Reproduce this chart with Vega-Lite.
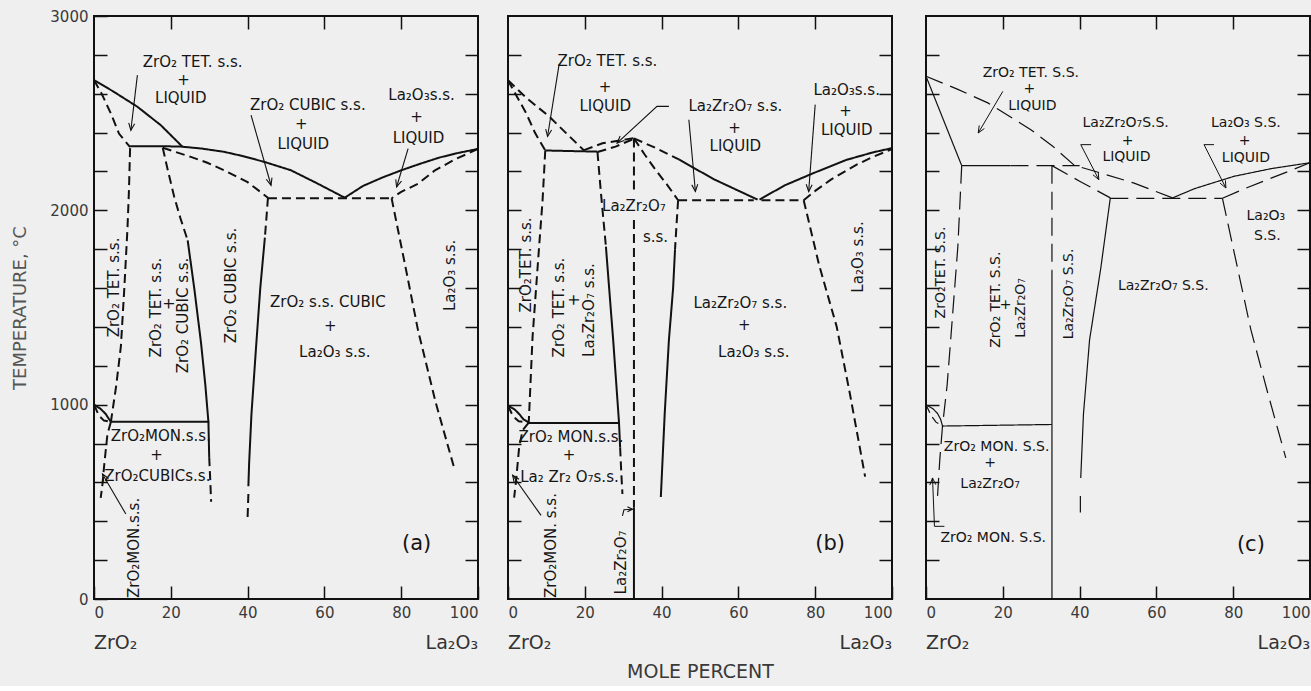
{
  "$schema": "https://vega.github.io/schema/vega-lite/v6.json",
  "background": "#efefef",
  "padding": {"left": 10, "top": 8, "right": 2, "bottom": 4},
  "spacing": 20,
  "config": {
    "view": {"stroke": "#111", "strokeWidth": 2},
    "axis": {"domain": false, "grid": false, "tickColor": "#111", "tickWidth": 1.5, "tickSize": -13, "labelFont": "DejaVu Sans", "labelFontSize": 15, "labelColor": "#3a3a3a", "titleFont": "DejaVu Sans", "titleFontWeight": "normal", "titleColor": "#3a3a3a"},
    "text": {"font": "DejaVu Sans", "fontSize": 15, "color": "#151515"}
  },
  "datasets": {
    "lines": [
      {"p":"a","s":"a1","k":"solid","x":0,"t":2670},{"p":"a","s":"a1","k":"solid","x":5,"t":2612},{"p":"a","s":"a1","k":"solid","x":11.3,"t":2533},{"p":"a","s":"a1","k":"solid","x":17.4,"t":2438},{"p":"a","s":"a1","k":"solid","x":23,"t":2328},
      {"p":"a","s":"a2","k":"dash","x":0,"t":2670},{"p":"a","s":"a2","k":"dash","x":2,"t":2600},{"p":"a","s":"a2","k":"dash","x":4.4,"t":2498},{"p":"a","s":"a2","k":"dash","x":6.5,"t":2395},{"p":"a","s":"a2","k":"dash","x":9.4,"t":2325},
      {"p":"a","s":"a3","k":"solid","x":9.4,"t":2330},{"p":"a","s":"a3","k":"solid","x":18,"t":2330},{"p":"a","s":"a3","k":"solid","x":22.6,"t":2328},{"p":"a","s":"a3","k":"solid","x":28,"t":2318},{"p":"a","s":"a3","k":"solid","x":33.9,"t":2301},{"p":"a","s":"a3","k":"solid","x":39,"t":2278},{"p":"a","s":"a3","k":"solid","x":44.4,"t":2249},{"p":"a","s":"a3","k":"solid","x":51.3,"t":2206},{"p":"a","s":"a3","k":"solid","x":58,"t":2140},{"p":"a","s":"a3","k":"solid","x":65.3,"t":2065},
      {"p":"a","s":"a4","k":"solid","x":65.3,"t":2065},{"p":"a","s":"a4","k":"solid","x":70,"t":2125},{"p":"a","s":"a4","k":"solid","x":75,"t":2168},{"p":"a","s":"a4","k":"solid","x":80,"t":2206},{"p":"a","s":"a4","k":"solid","x":85,"t":2240},{"p":"a","s":"a4","k":"solid","x":90,"t":2272},{"p":"a","s":"a4","k":"solid","x":95,"t":2296},{"p":"a","s":"a4","k":"solid","x":100,"t":2316},
      {"p":"a","s":"a5","k":"dash","x":100,"t":2316},{"p":"a","s":"a5","k":"dash","x":94,"t":2262},{"p":"a","s":"a5","k":"dash","x":88.8,"t":2206},{"p":"a","s":"a5","k":"dash","x":84.4,"t":2137},{"p":"a","s":"a5","k":"dash","x":80,"t":2095},{"p":"a","s":"a5","k":"dash","x":77.5,"t":2062},
      {"p":"a","s":"a6","k":"dash","x":45.3,"t":2062},{"p":"a","s":"a6","k":"dash","x":77.5,"t":2062},
      {"p":"a","s":"a7","k":"dash","x":17.9,"t":2322},{"p":"a","s":"a7","k":"dash","x":25.2,"t":2275},{"p":"a","s":"a7","k":"dash","x":29.5,"t":2245},{"p":"a","s":"a7","k":"dash","x":33.9,"t":2206},{"p":"a","s":"a7","k":"dash","x":40,"t":2145},{"p":"a","s":"a7","k":"dash","x":45.3,"t":2065},
      {"p":"a","s":"a8","k":"dash","x":17.9,"t":2322},{"p":"a","s":"a8","k":"dash","x":19.3,"t":2200},{"p":"a","s":"a8","k":"dash","x":20.9,"t":2069},{"p":"a","s":"a8","k":"dash","x":22.5,"t":1960},{"p":"a","s":"a8","k":"dash","x":24.4,"t":1845},
      {"p":"a","s":"a9","k":"solid","x":24.4,"t":1845},{"p":"a","s":"a9","k":"solid","x":26.1,"t":1600},{"p":"a","s":"a9","k":"solid","x":27.9,"t":1313},{"p":"a","s":"a9","k":"solid","x":29,"t":1100},{"p":"a","s":"a9","k":"solid","x":29.8,"t":910},{"p":"a","s":"a9","k":"solid","x":30,"t":730},
      {"p":"a","s":"a10","k":"dash","x":30,"t":730},{"p":"a","s":"a10","k":"dash","x":30.3,"t":600},{"p":"a","s":"a10","k":"dash","x":30.5,"t":500},
      {"p":"a","s":"a11","k":"dash","x":9.4,"t":2320},{"p":"a","s":"a11","k":"dash","x":9.1,"t":2100},{"p":"a","s":"a11","k":"dash","x":8.7,"t":1900},{"p":"a","s":"a11","k":"dash","x":7.9,"t":1600},{"p":"a","s":"a11","k":"dash","x":7,"t":1300},{"p":"a","s":"a11","k":"dash","x":5.8,"t":1100},{"p":"a","s":"a11","k":"dash","x":4.4,"t":912},
      {"p":"a","s":"a12","k":"dash","x":4.4,"t":912},{"p":"a","s":"a12","k":"dash","x":3.5,"t":848},{"p":"a","s":"a12","k":"dash","x":3.05,"t":763},{"p":"a","s":"a12","k":"dash","x":2.6,"t":677},{"p":"a","s":"a12","k":"dash","x":2.2,"t":591},{"p":"a","s":"a12","k":"dash","x":1.75,"t":520},
      {"p":"a","s":"a13","k":"solid","x":4.4,"t":912},{"p":"a","s":"a13","k":"solid","x":30,"t":912},
      {"p":"a","s":"a14","k":"solid","x":0,"t":1000},{"p":"a","s":"a14","k":"solid","x":1.75,"t":978},{"p":"a","s":"a14","k":"solid","x":3.05,"t":952},{"p":"a","s":"a14","k":"solid","x":3.9,"t":926},{"p":"a","s":"a14","k":"solid","x":4.4,"t":912},
      {"p":"a","s":"a15","k":"dash","x":0,"t":1000},{"p":"a","s":"a15","k":"dash","x":1.3,"t":943},{"p":"a","s":"a15","k":"dash","x":2.6,"t":918},{"p":"a","s":"a15","k":"dash","x":4.4,"t":912},
      {"p":"a","s":"a16","k":"dash","x":45.3,"t":2065},{"p":"a","s":"a16","k":"dash","x":44.9,"t":1960},{"p":"a","s":"a16","k":"dash","x":44.5,"t":1860},
      {"p":"a","s":"a17","k":"solid","x":44.5,"t":1860},{"p":"a","s":"a17","k":"solid","x":43.3,"t":1600},{"p":"a","s":"a17","k":"solid","x":42.2,"t":1295},{"p":"a","s":"a17","k":"solid","x":41,"t":950},{"p":"a","s":"a17","k":"solid","x":40.4,"t":700},{"p":"a","s":"a17","k":"solid","x":40.2,"t":580},
      {"p":"a","s":"a18","k":"dash","x":40.2,"t":540},{"p":"a","s":"a18","k":"dash","x":40,"t":420},
      {"p":"a","s":"a19","k":"dash","x":77.5,"t":2062},{"p":"a","s":"a19","k":"dash","x":81,"t":1720},{"p":"a","s":"a19","k":"dash","x":84.4,"t":1381},{"p":"a","s":"a19","k":"dash","x":89,"t":1010},{"p":"a","s":"a19","k":"dash","x":94,"t":660},
      {"p":"a","s":"aA1","k":"arrow","x":11.3,"t":2696},{"p":"a","s":"aA1","k":"arrow","x":9.6,"t":2412},
      {"p":"a","s":"aH1","k":"arrow","x":9.04,"t":2450},{"p":"a","s":"aH1","k":"arrow","x":9.6,"t":2412},{"p":"a","s":"aH1","k":"arrow","x":10.59,"t":2446},
      {"p":"a","s":"aA2","k":"arrow","x":40.9,"t":2490},{"p":"a","s":"aA2","k":"arrow","x":46.1,"t":2129},
      {"p":"a","s":"aH2","k":"arrow","x":44.85,"t":2160},{"p":"a","s":"aH2","k":"arrow","x":46.1,"t":2129},{"p":"a","s":"aH2","k":"arrow","x":46.35,"t":2168},
      {"p":"a","s":"aA3","k":"arrow","x":81.8,"t":2318},{"p":"a","s":"aA3","k":"arrow","x":78.8,"t":2120},
      {"p":"a","s":"aH3","k":"arrow","x":78.58,"t":2159},{"p":"a","s":"aH3","k":"arrow","x":78.8,"t":2120},{"p":"a","s":"aH3","k":"arrow","x":80.07,"t":2150},
      {"p":"a","s":"aA4","k":"arrow","x":8.3,"t":437},{"p":"a","s":"aA4","k":"arrow","x":2.2,"t":643},
      {"p":"a","s":"aH4","k":"arrow","x":3.8,"t":620},{"p":"a","s":"aH4","k":"arrow","x":2.2,"t":643},{"p":"a","s":"aH4","k":"arrow","x":2.45,"t":604},

      {"p":"b","s":"b1","k":"dash","x":0,"t":2669},{"p":"b","s":"b1","k":"dash","x":2.2,"t":2590},{"p":"b","s":"b1","k":"dash","x":4.7,"t":2501},{"p":"b","s":"b1","k":"dash","x":7,"t":2400},{"p":"b","s":"b1","k":"dash","x":9.7,"t":2308},
      {"p":"b","s":"b2","k":"dash","x":0,"t":2669},{"p":"b","s":"b2","k":"dash","x":5,"t":2575},{"p":"b","s":"b2","k":"dash","x":10.7,"t":2483},{"p":"b","s":"b2","k":"dash","x":15,"t":2400},{"p":"b","s":"b2","k":"dash","x":19.8,"t":2308},
      {"p":"b","s":"b3","k":"solid","x":9.7,"t":2308},{"p":"b","s":"b3","k":"solid","x":23.3,"t":2302},
      {"p":"b","s":"b4","k":"dash","x":19.8,"t":2310},{"p":"b","s":"b4","k":"dash","x":24.6,"t":2345},{"p":"b","s":"b4","k":"dash","x":32.8,"t":2372},
      {"p":"b","s":"b5","k":"dash","x":23.3,"t":2300},{"p":"b","s":"b5","k":"dash","x":28,"t":2328},{"p":"b","s":"b5","k":"dash","x":32.8,"t":2368},
      {"p":"b","s":"b6","k":"dash","x":32.8,"t":2370},{"p":"b","s":"b6","k":"dash","x":38,"t":2325},{"p":"b","s":"b6","k":"dash","x":44.5,"t":2262},
      {"p":"b","s":"b7","k":"solid","x":44.5,"t":2262},{"p":"b","s":"b7","k":"solid","x":53.6,"t":2160},{"p":"b","s":"b7","k":"solid","x":65,"t":2055},
      {"p":"b","s":"b8","k":"dash","x":32.8,"t":2370},{"p":"b","s":"b8","k":"dash","x":35.5,"t":2290},{"p":"b","s":"b8","k":"dash","x":38.4,"t":2209},{"p":"b","s":"b8","k":"dash","x":41.5,"t":2130},{"p":"b","s":"b8","k":"dash","x":44.3,"t":2052},
      {"p":"b","s":"b9","k":"dash","x":44.3,"t":2052},{"p":"b","s":"b9","k":"dash","x":64,"t":2052},
      {"p":"b","s":"b10","k":"dash","x":66,"t":2052},{"p":"b","s":"b10","k":"dash","x":77,"t":2052},
      {"p":"b","s":"b11","k":"solid","x":65.5,"t":2055},{"p":"b","s":"b11","k":"solid","x":72,"t":2128},{"p":"b","s":"b11","k":"solid","x":79.6,"t":2192},{"p":"b","s":"b11","k":"solid","x":88.2,"t":2260},{"p":"b","s":"b11","k":"solid","x":95,"t":2298},{"p":"b","s":"b11","k":"solid","x":100,"t":2320},
      {"p":"b","s":"b12","k":"dash","x":77,"t":2052},{"p":"b","s":"b12","k":"dash","x":80,"t":2100},{"p":"b","s":"b12","k":"dash","x":84,"t":2157},{"p":"b","s":"b12","k":"dash","x":90.8,"t":2235},{"p":"b","s":"b12","k":"dash","x":95,"t":2275},{"p":"b","s":"b12","k":"dash","x":100,"t":2315},
      {"p":"b","s":"b13","k":"dash","x":77,"t":2052},{"p":"b","s":"b13","k":"dash","x":81,"t":1720},{"p":"b","s":"b13","k":"dash","x":85.6,"t":1401},{"p":"b","s":"b13","k":"dash","x":89,"t":1060},{"p":"b","s":"b13","k":"dash","x":93,"t":630},
      {"p":"b","s":"b14","k":"dash","x":32.8,"t":2370},{"p":"b","s":"b14","k":"dash","x":32.8,"t":2090},
      {"p":"b","s":"b15","k":"dash","x":32.8,"t":1950},{"p":"b","s":"b15","k":"dash","x":32.8,"t":470},
      {"p":"b","s":"b16","k":"solid","x":32.8,"t":470},{"p":"b","s":"b16","k":"solid","x":32.8,"t":0},
      {"p":"b","s":"b17","k":"dash","x":23.3,"t":2300},{"p":"b","s":"b17","k":"dash","x":24.2,"t":2090},{"p":"b","s":"b17","k":"dash","x":25.5,"t":1813},
      {"p":"b","s":"b18","k":"solid","x":25.5,"t":1813},{"p":"b","s":"b18","k":"solid","x":27.4,"t":1330},{"p":"b","s":"b18","k":"solid","x":28.9,"t":911},{"p":"b","s":"b18","k":"solid","x":29.2,"t":780},
      {"p":"b","s":"b19","k":"dash","x":29.2,"t":780},{"p":"b","s":"b19","k":"dash","x":29.5,"t":650},{"p":"b","s":"b19","k":"dash","x":29.8,"t":540},
      {"p":"b","s":"b20","k":"dash","x":9.7,"t":2308},{"p":"b","s":"b20","k":"dash","x":9,"t":2050},{"p":"b","s":"b20","k":"dash","x":8.1,"t":1813},{"p":"b","s":"b20","k":"dash","x":6.4,"t":1350},{"p":"b","s":"b20","k":"dash","x":5.4,"t":908},
      {"p":"b","s":"b21","k":"dash","x":5.4,"t":908},{"p":"b","s":"b21","k":"dash","x":3.8,"t":868},{"p":"b","s":"b21","k":"dash","x":2.9,"t":780},{"p":"b","s":"b21","k":"dash","x":2.5,"t":694},{"p":"b","s":"b21","k":"dash","x":2.1,"t":608},{"p":"b","s":"b21","k":"dash","x":1.6,"t":522},
      {"p":"b","s":"b22","k":"solid","x":5.4,"t":906},{"p":"b","s":"b22","k":"solid","x":28.9,"t":906},
      {"p":"b","s":"b23","k":"solid","x":0,"t":995},{"p":"b","s":"b23","k":"solid","x":1.75,"t":975},{"p":"b","s":"b23","k":"solid","x":3,"t":950},{"p":"b","s":"b23","k":"solid","x":4,"t":925},{"p":"b","s":"b23","k":"solid","x":5.4,"t":908},
      {"p":"b","s":"b24","k":"dash","x":0,"t":995},{"p":"b","s":"b24","k":"dash","x":1.3,"t":940},{"p":"b","s":"b24","k":"dash","x":2.8,"t":915},{"p":"b","s":"b24","k":"dash","x":5.4,"t":908},
      {"p":"b","s":"b25","k":"dash","x":44.3,"t":2052},{"p":"b","s":"b25","k":"dash","x":43.9,"t":1930},{"p":"b","s":"b25","k":"dash","x":43.5,"t":1800},
      {"p":"b","s":"b26","k":"solid","x":43.5,"t":1800},{"p":"b","s":"b26","k":"solid","x":43,"t":1600},{"p":"b","s":"b26","k":"solid","x":41.9,"t":1332},{"p":"b","s":"b26","k":"solid","x":40.8,"t":950},{"p":"b","s":"b26","k":"solid","x":39.8,"t":525},
      {"p":"b","s":"bA1","k":"arrow","x":13.3,"t":2750},{"p":"b","s":"bA1","k":"arrow","x":10.3,"t":2380},
      {"p":"b","s":"bH1","k":"arrow","x":9.82,"t":2418},{"p":"b","s":"bH1","k":"arrow","x":10.3,"t":2380},{"p":"b","s":"bH1","k":"arrow","x":11.36,"t":2413},
      {"p":"b","s":"bA2","k":"arrow","x":41.9,"t":2535},{"p":"b","s":"bA2","k":"arrow","x":38.8,"t":2535},{"p":"b","s":"bA2","k":"arrow","x":28.4,"t":2346},
      {"p":"b","s":"bH2","k":"arrow","x":29.21,"t":2382},{"p":"b","s":"bH2","k":"arrow","x":28.4,"t":2346},{"p":"b","s":"bH2","k":"arrow","x":30.27,"t":2359},
      {"p":"b","s":"bA3","k":"arrow","x":47.1,"t":2466},{"p":"b","s":"bA3","k":"arrow","x":48.8,"t":2097},
      {"p":"b","s":"bH3","k":"arrow","x":47.86,"t":2131},{"p":"b","s":"bH3","k":"arrow","x":48.8,"t":2097},{"p":"b","s":"bH3","k":"arrow","x":49.41,"t":2134},
      {"p":"b","s":"bA4","k":"arrow","x":80,"t":2544},{"p":"b","s":"bA4","k":"arrow","x":78.3,"t":2097},
      {"p":"b","s":"bH4","k":"arrow","x":77.66,"t":2134},{"p":"b","s":"bH4","k":"arrow","x":78.3,"t":2097},{"p":"b","s":"bH4","k":"arrow","x":79.21,"t":2132},
      {"p":"b","s":"bA5","k":"arrow","x":8.6,"t":430},{"p":"b","s":"bA5","k":"arrow","x":1.2,"t":637},
      {"p":"b","s":"bH5","k":"arrow","x":2.89,"t":616},{"p":"b","s":"bH5","k":"arrow","x":1.2,"t":637},{"p":"b","s":"bH5","k":"arrow","x":1.62,"t":599},
      {"p":"b","s":"bA6","k":"arrow","x":29.8,"t":428},{"p":"b","s":"bA6","k":"arrow","x":30.2,"t":459},{"p":"b","s":"bA6","k":"arrow","x":32.4,"t":462},
      {"p":"b","s":"bH6","k":"arrow","x":31.1,"t":449},{"p":"b","s":"bH6","k":"arrow","x":32.4,"t":462},{"p":"b","s":"bH6","k":"arrow","x":31.1,"t":475},

      {"p":"c","s":"c1","k":"solid","x":0,"t":2690},{"p":"c","s":"c1","k":"solid","x":9.3,"t":2230},
      {"p":"c","s":"c2","k":"ldash","x":0,"t":2690},{"p":"c","s":"c2","k":"ldash","x":8,"t":2625},{"p":"c","s":"c2","k":"ldash","x":16.1,"t":2553},{"p":"c","s":"c2","k":"ldash","x":27.3,"t":2415},{"p":"c","s":"c2","k":"ldash","x":33,"t":2330},{"p":"c","s":"c2","k":"ldash","x":38.6,"t":2232},{"p":"c","s":"c2","k":"ldash","x":45.5,"t":2192},{"p":"c","s":"c2","k":"ldash","x":54.2,"t":2140},{"p":"c","s":"c2","k":"ldash","x":64.2,"t":2064},
      {"p":"c","s":"c3","k":"solid","x":9.3,"t":2230},{"p":"c","s":"c3","k":"solid","x":22,"t":2230},
      {"p":"c","s":"c4","k":"ldash","x":22,"t":2230},{"p":"c","s":"c4","k":"ldash","x":40,"t":2230},
      {"p":"c","s":"c5","k":"ldash","x":32.8,"t":2230},{"p":"c","s":"c5","k":"ldash","x":32.8,"t":1690},
      {"p":"c","s":"c6","k":"solid","x":32.8,"t":1690},{"p":"c","s":"c6","k":"solid","x":32.8,"t":0},
      {"p":"c","s":"c7","k":"ldash","x":32.8,"t":2230},{"p":"c","s":"c7","k":"ldash","x":40,"t":2150},{"p":"c","s":"c7","k":"ldash","x":48,"t":2064},
      {"p":"c","s":"c8","k":"ldash","x":48,"t":2062},{"p":"c","s":"c8","k":"ldash","x":77.2,"t":2062},
      {"p":"c","s":"c9","k":"solid","x":64.2,"t":2064},{"p":"c","s":"c9","k":"solid","x":70,"t":2112},{"p":"c","s":"c9","k":"solid","x":80.2,"t":2175},{"p":"c","s":"c9","k":"solid","x":90,"t":2215},{"p":"c","s":"c9","k":"solid","x":100,"t":2245},
      {"p":"c","s":"c10","k":"ldash","x":77.2,"t":2062},{"p":"c","s":"c10","k":"ldash","x":83,"t":2112},{"p":"c","s":"c10","k":"ldash","x":88.9,"t":2158},{"p":"c","s":"c10","k":"ldash","x":95,"t":2205},{"p":"c","s":"c10","k":"ldash","x":100,"t":2245},
      {"p":"c","s":"c11","k":"ldash","x":77.2,"t":2062},{"p":"c","s":"c11","k":"ldash","x":84.6,"t":1386},{"p":"c","s":"c11","k":"ldash","x":89,"t":1060},{"p":"c","s":"c11","k":"ldash","x":93.7,"t":726},
      {"p":"c","s":"c12","k":"solid","x":48,"t":2064},{"p":"c","s":"c12","k":"solid","x":45.5,"t":1700},{"p":"c","s":"c12","k":"solid","x":42.6,"t":1334},{"p":"c","s":"c12","k":"solid","x":41,"t":950},{"p":"c","s":"c12","k":"solid","x":40.3,"t":623},
      {"p":"c","s":"c13","k":"solid","x":40.2,"t":530},{"p":"c","s":"c13","k":"solid","x":40.2,"t":445},
      {"p":"c","s":"c14","k":"ldash","x":9.3,"t":2230},{"p":"c","s":"c14","k":"ldash","x":8.3,"t":1815},{"p":"c","s":"c14","k":"ldash","x":6.5,"t":1352},{"p":"c","s":"c14","k":"ldash","x":5.5,"t":1100},{"p":"c","s":"c14","k":"ldash","x":4.3,"t":890},
      {"p":"c","s":"c15","k":"ldash","x":4.3,"t":890},{"p":"c","s":"c15","k":"ldash","x":3.6,"t":720},{"p":"c","s":"c15","k":"ldash","x":3,"t":528},
      {"p":"c","s":"c16","k":"solid","x":4.3,"t":890},{"p":"c","s":"c16","k":"solid","x":32.8,"t":898},
      {"p":"c","s":"c17","k":"solid","x":0,"t":1000},{"p":"c","s":"c17","k":"solid","x":1.75,"t":980},{"p":"c","s":"c17","k":"solid","x":3,"t":955},{"p":"c","s":"c17","k":"solid","x":3.8,"t":925},{"p":"c","s":"c17","k":"solid","x":4.3,"t":890},
      {"p":"c","s":"c18","k":"dash","x":0,"t":1000},{"p":"c","s":"c18","k":"dash","x":1.3,"t":945},{"p":"c","s":"c18","k":"dash","x":2.6,"t":910},{"p":"c","s":"c18","k":"dash","x":4.3,"t":890},
      {"p":"c","s":"cA1","k":"arrow","x":20,"t":2612},{"p":"c","s":"cA1","k":"arrow","x":13.6,"t":2398},
      {"p":"c","s":"cH1","k":"arrow","x":13.86,"t":2437},{"p":"c","s":"cH1","k":"arrow","x":13.6,"t":2398},{"p":"c","s":"cH1","k":"arrow","x":15.2,"t":2421},
      {"p":"c","s":"cA2","k":"arrow","x":43,"t":2338},{"p":"c","s":"cA2","k":"arrow","x":40.3,"t":2338},{"p":"c","s":"cA2","k":"arrow","x":45,"t":2158},
      {"p":"c","s":"cH2","k":"arrow","x":43.47,"t":2183},{"p":"c","s":"cH2","k":"arrow","x":45,"t":2158},{"p":"c","s":"cH2","k":"arrow","x":44.86,"t":2197},
      {"p":"c","s":"cA3","k":"arrow","x":75,"t":2338},{"p":"c","s":"cA3","k":"arrow","x":72.4,"t":2338},{"p":"c","s":"cA3","k":"arrow","x":78.1,"t":2115},
      {"p":"c","s":"cH3","k":"arrow","x":76.58,"t":2140},{"p":"c","s":"cH3","k":"arrow","x":78.1,"t":2115},{"p":"c","s":"cH3","k":"arrow","x":77.98,"t":2154},
      {"p":"c","s":"cA4","k":"arrow","x":4.8,"t":374},{"p":"c","s":"cA4","k":"arrow","x":2.2,"t":374},{"p":"c","s":"cA4","k":"arrow","x":1.7,"t":623},
      {"p":"c","s":"cH4","k":"arrow","x":2.55,"t":588},{"p":"c","s":"cH4","k":"arrow","x":1.7,"t":623},{"p":"c","s":"cH4","k":"arrow","x":0.99,"t":586}
    ],
    "labels": [
      {"p":"a","o":"h","l":"ZrO₂ TET. s.s.","x":25.7,"t":2765},{"p":"a","o":"h","l":"+","x":23.3,"t":2670},{"p":"a","o":"h","l":"LIQUID","x":22.6,"t":2576},
      {"p":"a","o":"h","l":"ZrO₂ CUBIC s.s.","x":55.7,"t":2541},{"p":"a","o":"h","l":"+","x":54,"t":2443},{"p":"a","o":"h","l":"LIQUID","x":54.5,"t":2340},
      {"p":"a","o":"h","l":"La₂O₃s.s.","x":85.3,"t":2593},{"p":"a","o":"h","l":"+","x":84,"t":2481},{"p":"a","o":"h","l":"LIQUID","x":84.5,"t":2373},
      {"p":"a","o":"h","l":"ZrO₂ s.s. CUBIC","x":60.9,"t":1527},{"p":"a","o":"h","l":"+","x":61.5,"t":1407},{"p":"a","o":"h","l":"La₂O₃ s.s.","x":62.7,"t":1270},
      {"p":"a","o":"h","l":"ZrO₂MON.s.s.","x":17.4,"t":840},{"p":"a","o":"h","l":"+","x":16.3,"t":740},{"p":"a","o":"h","l":"ZrO₂CUBICs.s.","x":16.5,"t":634},
      {"p":"a","o":"v","l":"ZrO₂ TET. s.s.","x":5.1,"t":1603},
      {"p":"a","o":"v","l":"ZrO₂ TET. s.s.","x":16.1,"t":1500},{"p":"a","o":"v","l":"+","x":19.6,"t":1520},{"p":"a","o":"v","l":"ZrO₂ CUBIC s.s.","x":23.1,"t":1459},
      {"p":"a","o":"v","l":"ZrO₂ CUBIC s.s.","x":35.7,"t":1613},
      {"p":"a","o":"v","l":"La₂O₃ s.s.","x":92.7,"t":1665},
      {"p":"a","o":"v","l":"ZrO₂MON.s.s.","x":10.4,"t":263},
      {"p":"a","o":"tag","l":"(a)","x":84,"t":282},
      {"p":"a","o":"endL","l":"ZrO₂","x":0,"t":0},{"p":"a","o":"endR","l":"La₂O₃","x":100,"t":0},

      {"p":"b","o":"h","l":"ZrO₂ TET. s.s.","x":25.9,"t":2767},{"p":"b","o":"h","l":"+","x":25.3,"t":2635},{"p":"b","o":"h","l":"LIQUID","x":25.3,"t":2535},
      {"p":"b","o":"h","l":"La₂Zr₂O₇ s.s.","x":59.2,"t":2535},{"p":"b","o":"h","l":"+","x":59,"t":2424},{"p":"b","o":"h","l":"LIQUID","x":59.2,"t":2329},
      {"p":"b","o":"h","l":"La₂O₃s.s.","x":88.2,"t":2621},{"p":"b","o":"h","l":"+","x":87.9,"t":2509},{"p":"b","o":"h","l":"LIQUID","x":88.2,"t":2415},
      {"p":"b","o":"h","l":"La₂Zr₂O₇","x":32.8,"t":2020},{"p":"b","o":"h","l":"s.s.","x":38.4,"t":1865},
      {"p":"b","o":"h","l":"La₂Zr₂O₇ s.s.","x":60.5,"t":1521},{"p":"b","o":"h","l":"+","x":61.5,"t":1410},{"p":"b","o":"h","l":"La₂O₃ s.s.","x":64,"t":1272},
      {"p":"b","o":"h","l":"ZrO₂ MON.s.s.","x":16.4,"t":834},{"p":"b","o":"h","l":"+","x":15.9,"t":740},{"p":"b","o":"h","l":"La₂ Zr₂ O₇s.s.","x":16,"t":628},
      {"p":"b","o":"v","l":"ZrO₂TET. s.s.","x":4.7,"t":1719},
      {"p":"b","o":"v","l":"ZrO₂ TET. s.s.","x":13.3,"t":1500},{"p":"b","o":"v","l":"+","x":17.2,"t":1539},{"p":"b","o":"v","l":"La₂Zr₂O₇ s.s.","x":21.1,"t":1487},
      {"p":"b","o":"v","l":"La₂O₃ s.s.","x":91.2,"t":1760},
      {"p":"b","o":"v","l":"ZrO₂MON. s.s.","x":11.2,"t":275},
      {"p":"b","o":"v","l":"La₂Zr₂O₇","x":29.4,"t":188},
      {"p":"b","o":"tag","l":"(b)","x":83.9,"t":285},
      {"p":"b","o":"endL","l":"ZrO₂","x":0,"t":0},{"p":"b","o":"endR","l":"La₂O₃","x":100,"t":0},

      {"p":"c","o":"h","l":"ZrO₂ TET. S.S.","x":27.3,"t":2708},{"p":"c","o":"h","l":"+","x":26.9,"t":2625},{"p":"c","o":"h","l":"LIQUID","x":27.7,"t":2538},
      {"p":"c","o":"h","l":"La₂Zr₂O₇S.S.","x":52,"t":2448},{"p":"c","o":"h","l":"+","x":52.5,"t":2357},{"p":"c","o":"h","l":"LIQUID","x":52.2,"t":2275},
      {"p":"c","o":"h","l":"La₂O₃ S.S.","x":83.3,"t":2448},{"p":"c","o":"h","l":"+","x":83,"t":2355},{"p":"c","o":"h","l":"LIQUID","x":83.3,"t":2268},
      {"p":"c","o":"h","l":"La₂O₃","x":88.5,"t":1969},{"p":"c","o":"h","l":"S.S.","x":88.9,"t":1866},
      {"p":"c","o":"h","l":"La₂Zr₂O₇ S.S.","x":61.8,"t":1609},
      {"p":"c","o":"h","l":"ZrO₂ MON. S.S.","x":18.4,"t":782},{"p":"c","o":"h","l":"+","x":16.7,"t":698},{"p":"c","o":"h","l":"La₂Zr₂O₇","x":16.7,"t":590},
      {"p":"c","o":"h","l":"ZrO₂ MON. S.S.","x":17.5,"t":314},
      {"p":"c","o":"v","l":"ZrO₂TET. S.S.","x":3.9,"t":1680},
      {"p":"c","o":"v","l":"ZrO₂ TET. S.S.","x":18.2,"t":1540},{"p":"c","o":"v","l":"+","x":20.8,"t":1515},{"p":"c","o":"v","l":"La₂Zr₂O₇","x":24.7,"t":1498},
      {"p":"c","o":"v","l":"La₂Zr₂O₇ S.S.","x":37.3,"t":1570},
      {"p":"c","o":"tag","l":"(c)","x":84.6,"t":280},
      {"p":"c","o":"endL","l":"ZrO₂","x":0,"t":0},{"p":"c","o":"endR","l":"La₂O₃","x":100,"t":0}
    ]
  },
  "hconcat": [
    {
      "width": 384, "height": 583,
      "resolve": {"axis": {"x": "independent", "y": "independent"}},
      "layer": [
        {"data": {"name": "lines"}, "transform": [{"filter": "datum.p == 'a' && datum.k != 'arrow'"}],
         "mark": {"type": "line", "strokeWidth": 2, "color": "#111"},
         "encoding": {
           "x": {"field": "x", "type": "quantitative", "scale": {"domain": [0, 100]}, "axis": {"orient": "bottom", "values": [0,20,40,60,80,100], "labelFlush": true, "labelPadding": 19, "title": null}},
           "y": {"field": "t", "type": "quantitative", "scale": {"domain": [0, 3000]}, "axis": {"orient": "left", "values": [0,200,400,600,800,1000,1200,1400,1600,1800,2000,2200,2400,2600,2800,3000], "format": "d", "labelExpr": "datum.value % 1000 === 0 ? datum.label : ''", "labelPadding": 19, "title": "TEMPERATURE, °C", "titleFontSize": 18, "titleColor": "#555", "titlePadding": 20}},
           "detail": {"field": "s"},
           "strokeDash": {"field": "k", "type": "nominal", "scale": {"domain": ["solid","dash","ldash"], "range": [[1,0],[9,5],[18,8]]}, "legend": null},
           "order": {"value": null}
         }},
        {"data": {"name": "lines"}, "transform": [{"filter": "datum.p == 'a' && datum.k == 'arrow'"}],
         "mark": {"type": "line", "strokeWidth": 1.1, "color": "#111"},
         "encoding": {
           "x": {"field": "x", "type": "quantitative", "scale": {"domain": [0, 100]}, "axis": null},
           "y": {"field": "t", "type": "quantitative", "scale": {"domain": [0, 3000]}, "axis": null},
           "detail": {"field": "s"}, "order": {"value": null}
         }},
        {"data": {"name": "labels"}, "transform": [{"filter": "datum.p == 'a' && datum.o == 'h'"}],
         "mark": {"type": "text", "align": "center", "baseline": "middle"},
         "encoding": {
           "x": {"field": "x", "type": "quantitative", "scale": {"domain": [0, 100]}, "axis": {"orient": "top", "values": [20,40,60,80], "labels": false, "title": null}},
           "y": {"field": "t", "type": "quantitative", "scale": {"domain": [0, 3000]}, "axis": {"orient": "right", "values": [200,400,600,800,1000,1200,1400,1600,1800,2000,2200,2400,2600,2800], "labels": false, "title": null}},
           "text": {"field": "l"}
         }},
        {"data": {"name": "labels"}, "transform": [{"filter": "datum.p == 'a' && datum.o == 'v'"}],
         "mark": {"type": "text", "align": "center", "baseline": "middle", "angle": 270},
         "encoding": {
           "x": {"field": "x", "type": "quantitative", "scale": {"domain": [0, 100]}, "axis": null},
           "y": {"field": "t", "type": "quantitative", "scale": {"domain": [0, 3000]}, "axis": null},
           "text": {"field": "l"}
         }},
        {"data": {"name": "labels"}, "transform": [{"filter": "datum.p == 'a' && datum.o == 'tag'"}],
         "mark": {"type": "text", "align": "center", "baseline": "middle", "fontSize": 21},
         "encoding": {
           "x": {"field": "x", "type": "quantitative", "scale": {"domain": [0, 100]}, "axis": null},
           "y": {"field": "t", "type": "quantitative", "scale": {"domain": [0, 3000]}, "axis": null},
           "text": {"field": "l"}
         }},
        {"data": {"name": "labels"}, "transform": [{"filter": "datum.p == 'a' && datum.o == 'endL'"}],
         "mark": {"type": "text", "align": "left", "baseline": "middle", "fontSize": 19, "dy": 44, "color": "#333"},
         "encoding": {
           "x": {"field": "x", "type": "quantitative", "scale": {"domain": [0, 100]}, "axis": null},
           "y": {"field": "t", "type": "quantitative", "scale": {"domain": [0, 3000]}, "axis": null},
           "text": {"field": "l"}
         }},
        {"data": {"name": "labels"}, "transform": [{"filter": "datum.p == 'a' && datum.o == 'endR'"}],
         "mark": {"type": "text", "align": "right", "baseline": "middle", "fontSize": 19, "dy": 44, "color": "#333"},
         "encoding": {
           "x": {"field": "x", "type": "quantitative", "scale": {"domain": [0, 100]}, "axis": null},
           "y": {"field": "t", "type": "quantitative", "scale": {"domain": [0, 3000]}, "axis": null},
           "text": {"field": "l"}
         }}
      ]
    },
    {
      "spacing": 25,
      "hconcat": [
        {
          "width": 384, "height": 583,
          "resolve": {"axis": {"x": "independent", "y": "independent"}},
          "layer": [
            {"data": {"name": "lines"}, "transform": [{"filter": "datum.p == 'b' && datum.k != 'arrow'"}],
             "mark": {"type": "line", "strokeWidth": 2, "color": "#111"},
             "encoding": {
               "x": {"field": "x", "type": "quantitative", "scale": {"domain": [0, 100]}, "axis": {"orient": "bottom", "values": [0,20,40,60,80,100], "labelFlush": true, "labelPadding": 19, "title": "MOLE PERCENT", "titleFontSize": 19, "titlePadding": 42}},
               "y": {"field": "t", "type": "quantitative", "scale": {"domain": [0, 3000]}, "axis": {"orient": "left", "values": [200,400,600,800,1000,1200,1400,1600,1800,2000,2200,2400,2600,2800], "labels": false, "title": null}},
               "detail": {"field": "s"},
               "strokeDash": {"field": "k", "type": "nominal", "scale": {"domain": ["solid","dash","ldash"], "range": [[1,0],[9,5],[18,8]]}, "legend": null},
               "order": {"value": null}
             }},
            {"data": {"name": "lines"}, "transform": [{"filter": "datum.p == 'b' && datum.k == 'arrow'"}],
             "mark": {"type": "line", "strokeWidth": 1.1, "color": "#111"},
             "encoding": {
               "x": {"field": "x", "type": "quantitative", "scale": {"domain": [0, 100]}, "axis": null},
               "y": {"field": "t", "type": "quantitative", "scale": {"domain": [0, 3000]}, "axis": null},
               "detail": {"field": "s"}, "order": {"value": null}
             }},
            {"data": {"name": "labels"}, "transform": [{"filter": "datum.p == 'b' && datum.o == 'h'"}],
             "mark": {"type": "text", "align": "center", "baseline": "middle"},
             "encoding": {
               "x": {"field": "x", "type": "quantitative", "scale": {"domain": [0, 100]}, "axis": {"orient": "top", "values": [20,40,60,80], "labels": false, "title": null}},
               "y": {"field": "t", "type": "quantitative", "scale": {"domain": [0, 3000]}, "axis": {"orient": "right", "values": [200,400,600,800,1000,1200,1400,1600,1800,2000,2200,2400,2600,2800], "labels": false, "title": null}},
               "text": {"field": "l"}
             }},
            {"data": {"name": "labels"}, "transform": [{"filter": "datum.p == 'b' && datum.o == 'v'"}],
             "mark": {"type": "text", "align": "center", "baseline": "middle", "angle": 270},
             "encoding": {
               "x": {"field": "x", "type": "quantitative", "scale": {"domain": [0, 100]}, "axis": null},
               "y": {"field": "t", "type": "quantitative", "scale": {"domain": [0, 3000]}, "axis": null},
               "text": {"field": "l"}
             }},
            {"data": {"name": "labels"}, "transform": [{"filter": "datum.p == 'b' && datum.o == 'tag'"}],
             "mark": {"type": "text", "align": "center", "baseline": "middle", "fontSize": 21},
             "encoding": {
               "x": {"field": "x", "type": "quantitative", "scale": {"domain": [0, 100]}, "axis": null},
               "y": {"field": "t", "type": "quantitative", "scale": {"domain": [0, 3000]}, "axis": null},
               "text": {"field": "l"}
             }},
            {"data": {"name": "labels"}, "transform": [{"filter": "datum.p == 'b' && datum.o == 'endL'"}],
             "mark": {"type": "text", "align": "left", "baseline": "middle", "fontSize": 19, "dy": 44, "color": "#333"},
             "encoding": {
               "x": {"field": "x", "type": "quantitative", "scale": {"domain": [0, 100]}, "axis": null},
               "y": {"field": "t", "type": "quantitative", "scale": {"domain": [0, 3000]}, "axis": null},
               "text": {"field": "l"}
             }},
            {"data": {"name": "labels"}, "transform": [{"filter": "datum.p == 'b' && datum.o == 'endR'"}],
             "mark": {"type": "text", "align": "right", "baseline": "middle", "fontSize": 19, "dy": 44, "color": "#333"},
             "encoding": {
               "x": {"field": "x", "type": "quantitative", "scale": {"domain": [0, 100]}, "axis": null},
               "y": {"field": "t", "type": "quantitative", "scale": {"domain": [0, 3000]}, "axis": null},
               "text": {"field": "l"}
             }}
          ]
        },
        {
          "width": 384, "height": 583,
          "resolve": {"axis": {"x": "independent", "y": "independent"}},
          "layer": [
            {"data": {"name": "lines"}, "transform": [{"filter": "datum.p == 'c' && datum.k != 'arrow'"}],
             "mark": {"type": "line", "strokeWidth": 1.2, "color": "#111"},
             "encoding": {
               "x": {"field": "x", "type": "quantitative", "scale": {"domain": [0, 100]}, "axis": {"orient": "bottom", "values": [0,20,40,60,80,100], "labelFlush": true, "labelPadding": 19, "title": null}},
               "y": {"field": "t", "type": "quantitative", "scale": {"domain": [0, 3000]}, "axis": {"orient": "left", "values": [200,400,600,800,1000,1200,1400,1600,1800,2000,2200,2400,2600,2800], "labels": false, "title": null}},
               "detail": {"field": "s"},
               "strokeDash": {"field": "k", "type": "nominal", "scale": {"domain": ["solid","dash","ldash"], "range": [[1,0],[9,5],[18,8]]}, "legend": null},
               "order": {"value": null}
             }},
            {"data": {"name": "lines"}, "transform": [{"filter": "datum.p == 'c' && datum.k == 'arrow'"}],
             "mark": {"type": "line", "strokeWidth": 1, "color": "#111"},
             "encoding": {
               "x": {"field": "x", "type": "quantitative", "scale": {"domain": [0, 100]}, "axis": null},
               "y": {"field": "t", "type": "quantitative", "scale": {"domain": [0, 3000]}, "axis": null},
               "detail": {"field": "s"}, "order": {"value": null}
             }},
            {"data": {"name": "labels"}, "transform": [{"filter": "datum.p == 'c' && datum.o == 'h'"}],
             "mark": {"type": "text", "align": "center", "baseline": "middle", "fontSize": 14},
             "encoding": {
               "x": {"field": "x", "type": "quantitative", "scale": {"domain": [0, 100]}, "axis": {"orient": "top", "values": [20,40,60,80], "labels": false, "title": null}},
               "y": {"field": "t", "type": "quantitative", "scale": {"domain": [0, 3000]}, "axis": {"orient": "right", "values": [200,400,600,800,1000,1200,1400,1600,1800,2000,2200,2400,2600,2800], "labels": false, "title": null}},
               "text": {"field": "l"}
             }},
            {"data": {"name": "labels"}, "transform": [{"filter": "datum.p == 'c' && datum.o == 'v'"}],
             "mark": {"type": "text", "align": "center", "baseline": "middle", "angle": 270, "fontSize": 14},
             "encoding": {
               "x": {"field": "x", "type": "quantitative", "scale": {"domain": [0, 100]}, "axis": null},
               "y": {"field": "t", "type": "quantitative", "scale": {"domain": [0, 3000]}, "axis": null},
               "text": {"field": "l"}
             }},
            {"data": {"name": "labels"}, "transform": [{"filter": "datum.p == 'c' && datum.o == 'tag'"}],
             "mark": {"type": "text", "align": "center", "baseline": "middle", "fontSize": 21},
             "encoding": {
               "x": {"field": "x", "type": "quantitative", "scale": {"domain": [0, 100]}, "axis": null},
               "y": {"field": "t", "type": "quantitative", "scale": {"domain": [0, 3000]}, "axis": null},
               "text": {"field": "l"}
             }},
            {"data": {"name": "labels"}, "transform": [{"filter": "datum.p == 'c' && datum.o == 'endL'"}],
             "mark": {"type": "text", "align": "left", "baseline": "middle", "fontSize": 19, "dy": 44, "color": "#333"},
             "encoding": {
               "x": {"field": "x", "type": "quantitative", "scale": {"domain": [0, 100]}, "axis": null},
               "y": {"field": "t", "type": "quantitative", "scale": {"domain": [0, 3000]}, "axis": null},
               "text": {"field": "l"}
             }},
            {"data": {"name": "labels"}, "transform": [{"filter": "datum.p == 'c' && datum.o == 'endR'"}],
             "mark": {"type": "text", "align": "right", "baseline": "middle", "fontSize": 19, "dy": 44, "color": "#333"},
             "encoding": {
               "x": {"field": "x", "type": "quantitative", "scale": {"domain": [0, 100]}, "axis": null},
               "y": {"field": "t", "type": "quantitative", "scale": {"domain": [0, 3000]}, "axis": null},
               "text": {"field": "l"}
             }}
          ]
        }
      ]
    }
  ]
}
